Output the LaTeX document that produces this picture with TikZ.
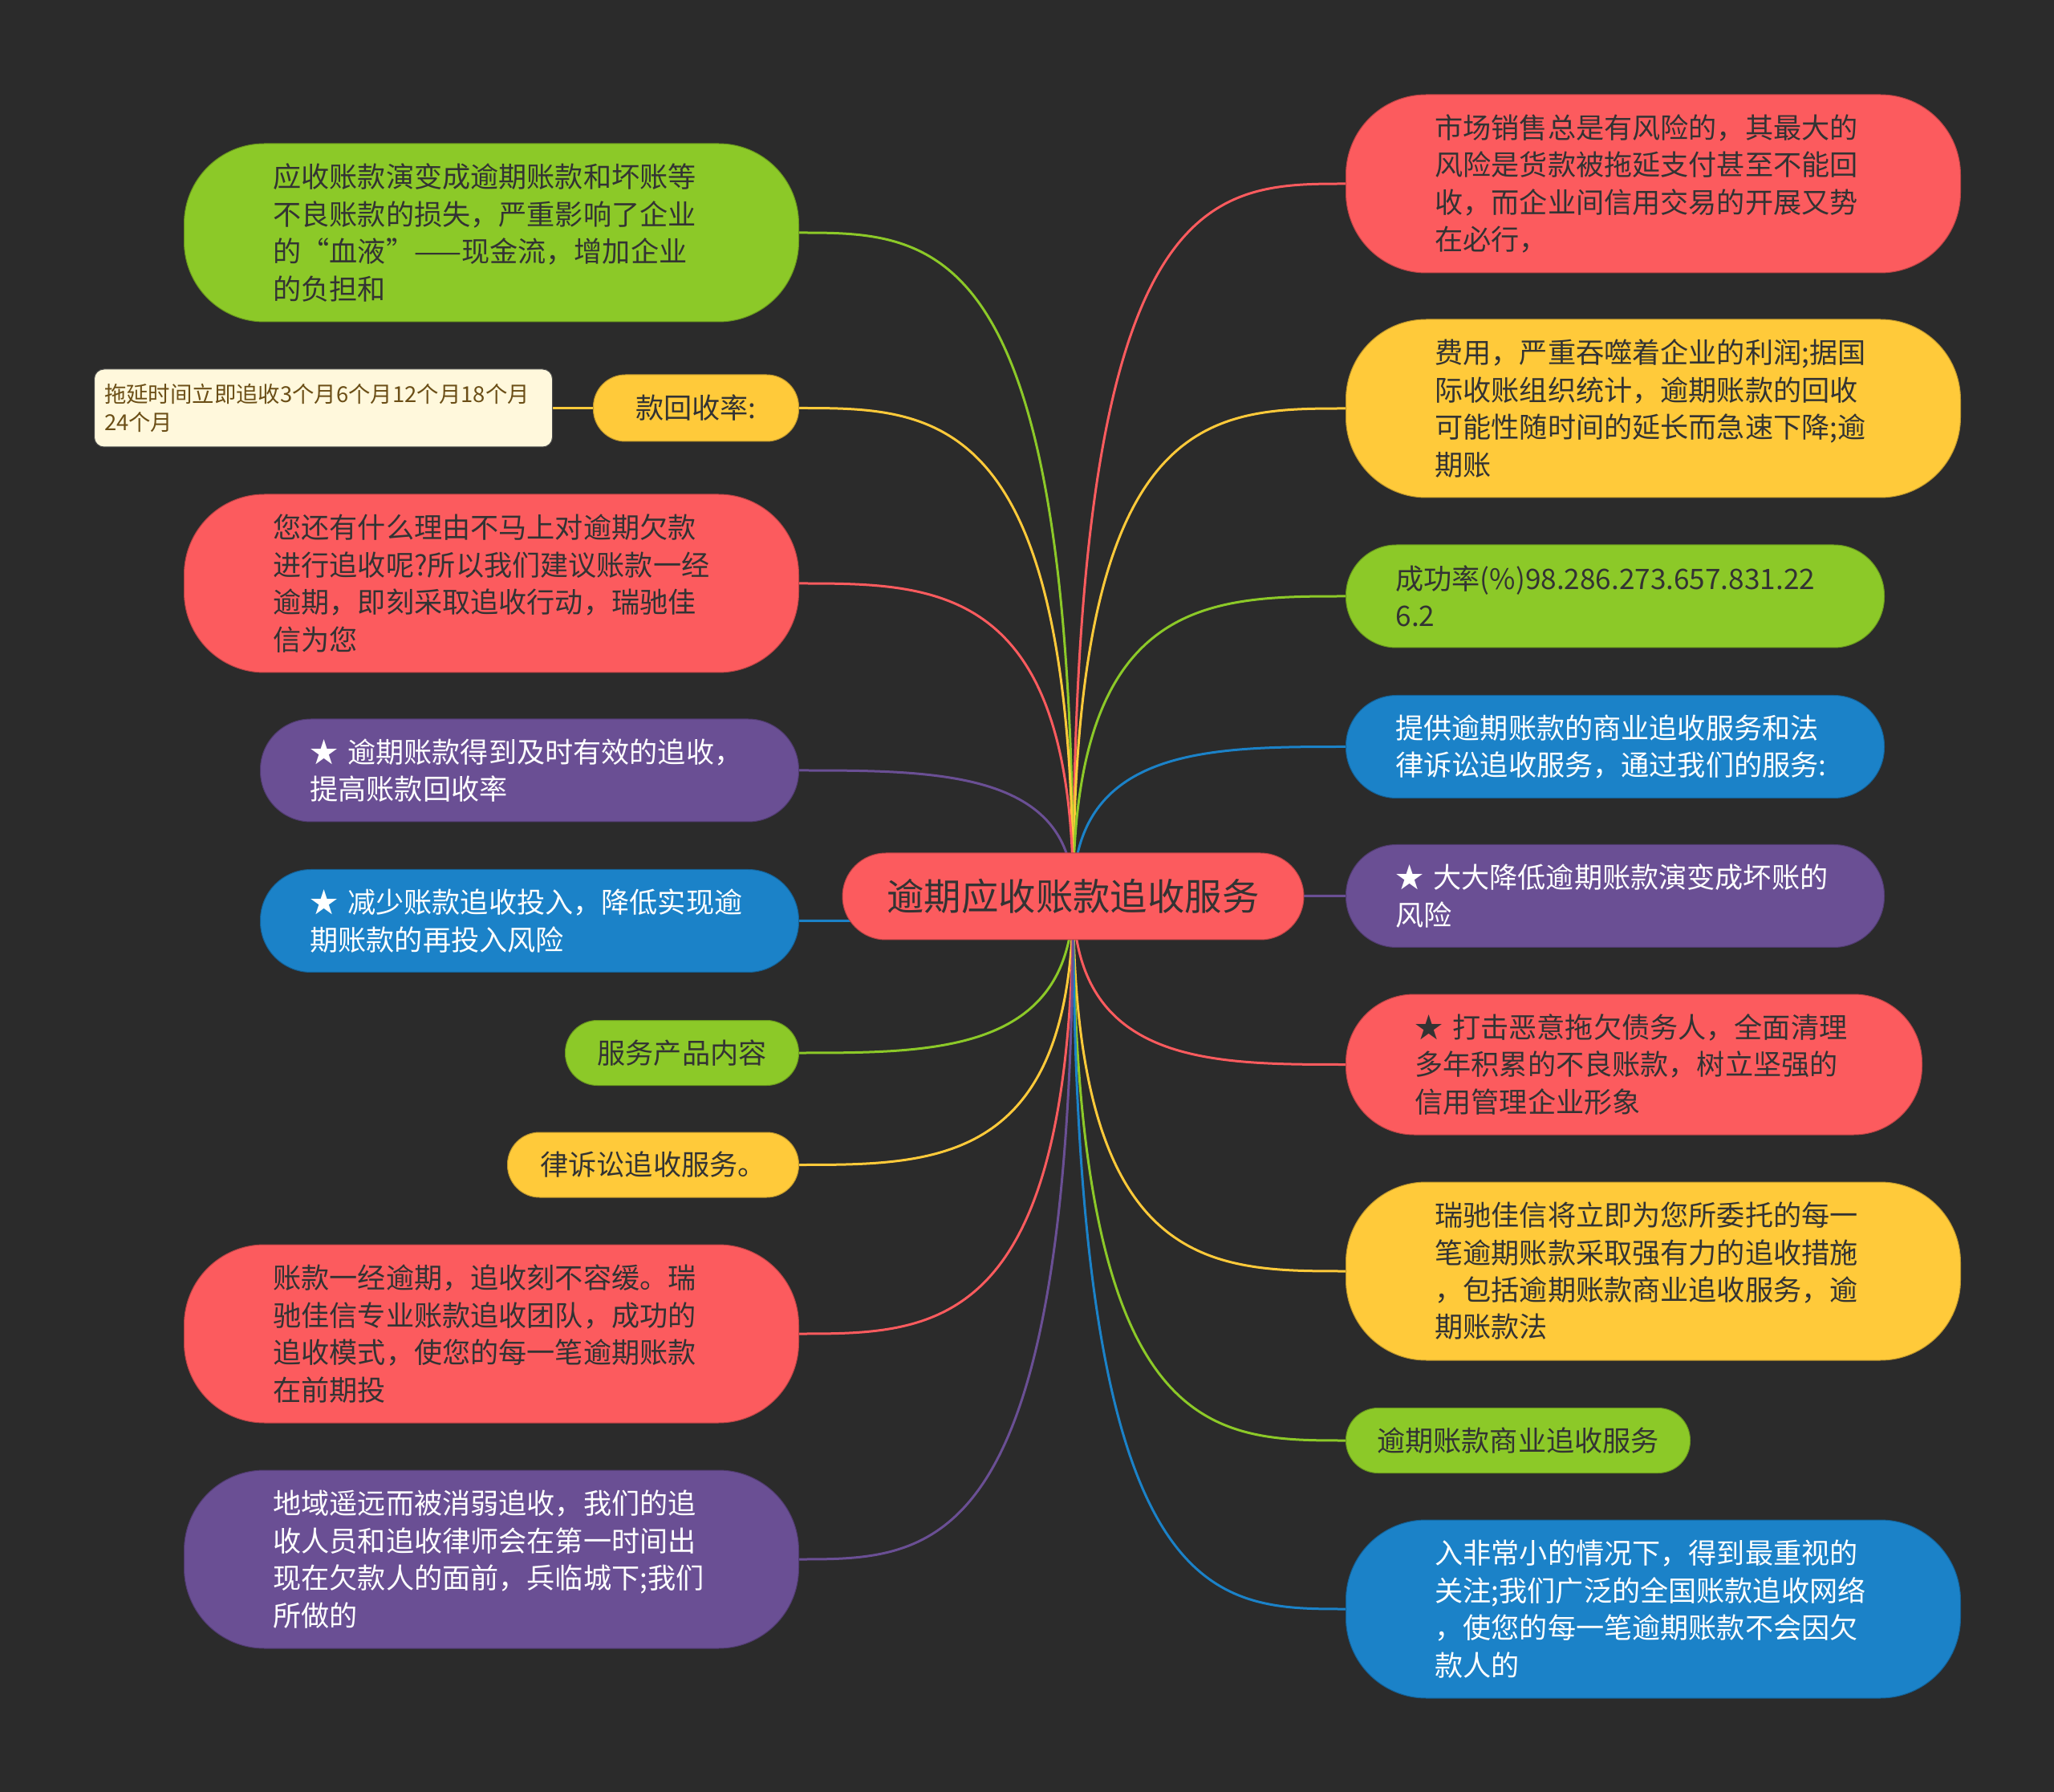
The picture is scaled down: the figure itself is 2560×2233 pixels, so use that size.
\documentclass[tikz,border=0pt]{standalone}
\usepackage{fontspec}
\setmainfont{Noto Sans CJK SC}
\usetikzlibrary{calc}
\definecolor{bgc}{HTML}{2B2B2B}
\definecolor{cred}{HTML}{FC5B5E}
\definecolor{cyel}{HTML}{FFCA3A}
\definecolor{cgrn}{HTML}{8CC928}
\definecolor{cblu}{HTML}{1B82C8}
\definecolor{cpur}{HTML}{6A4F94}
\definecolor{ccream}{HTML}{FFF8DC}
\definecolor{cbrown}{HTML}{6B4E16}
\definecolor{tdark}{HTML}{333333}
\pgfdeclarelayer{background}
\pgfsetlayers{background,main}
\tikzset{
  base/.style={draw, line width=0.1mm, inner sep=0pt, align=left,
    font=\fontsize{10pt}{13.2pt}\selectfont},
  four/.style={base, minimum width=76.6mm, minimum height=22.2mm, text width=54.4mm, rounded corners=10mm},
  three/.style={base, minimum width=71.8mm, minimum height=17.5mm, text width=54.6mm, rounded corners=8.5mm},
  two/.style={base, minimum width=67.1mm, minimum height=12.8mm, text width=54.7mm, rounded corners=6.3mm},
  one/.style={base, minimum height=8.1mm, rounded corners=4mm, align=center},
  nred/.style={fill=cred, draw=cred!75!black, text=tdark},
  nyel/.style={fill=cyel, draw=cyel!75!black, text=tdark},
  ngrn/.style={fill=cgrn, draw=cgrn!75!black, text=tdark},
  nblu/.style={fill=cblu, draw=cblu!75!black, text=white},
  npur/.style={fill=cpur, draw=cpur!75!black, text=white},
  conn/.style={line width=0.3mm},
}
\begin{document}
\begin{tikzpicture}[x=0.1mm, y=-0.1mm]
\begin{pgfonlayer}{background}
\fill[bgc] (0,0) rectangle (2560,2233);
\end{pgfonlayer}
\useasboundingbox (0,0) rectangle (2560,2233);

% center
\node[base, nred, align=center, minimum width=57.5mm, minimum height=10.8mm, rounded corners=5.4mm,
  font=\fontsize{13.2pt}{16pt}\selectfont] (C) at (1337.5,1117) {逾期应收账款追收服务};

% right side
\node[four, nred, anchor=west] (R1) at (1677,229) {市场销售总是有风险的，其最大的\\风险是货款被拖延支付甚至不能回\\收，而企业间信用交易的开展又势\\在必行，};
\node[four, nyel, anchor=west] (R2) at (1677,509) {费用，严重吞噬着企业的利润;据国\\际收账组织统计，逾期账款的回收\\可能性随时间的延长而急速下降;逾\\期账};
\node[two, ngrn, anchor=west] (R3) at (1677,743) {成功率(\%)98.286.273.657.831.22\\6.2};
\node[two, nblu, anchor=west] (R4) at (1677,930.5) {提供逾期账款的商业追收服务和法\\律诉讼追收服务，通过我们的服务:};
\node[two, npur, anchor=west] (R5) at (1677,1116.5) {★ 大大降低逾期账款演变成坏账的\\风险};
\node[three, nred, anchor=west] (R6) at (1677,1326.5) {★ 打击恶意拖欠债务人，全面清理\\多年积累的不良账款，树立坚强的\\信用管理企业形象};
\node[four, nyel, anchor=west] (R7) at (1677,1584) {瑞驰佳信将立即为您所委托的每一\\笔逾期账款采取强有力的追收措施\\，包括逾期账款商业追收服务，逾\\期账款法};
\node[one, ngrn, anchor=west, minimum width=42.9mm] (R8) at (1677,1795) {逾期账款商业追收服务};
\node[four, nblu, anchor=west] (R9) at (1677,2005) {入非常小的情况下，得到最重视的\\关注;我们广泛的全国账款追收网络\\，使您的每一笔逾期账款不会因欠\\款人的};

% left side
\node[four, ngrn, anchor=east] (L1) at (996,290) {应收账款演变成逾期账款和坏账等\\不良账款的损失，严重影响了企业\\的“血液”——现金流，增加企业\\的负担和};
\node[one, nyel, anchor=east, minimum width=25.6mm, minimum height=8.3mm] (L2) at (996,508.5) {款回收率:};
\node[draw=black!70, line width=0.1mm, fill=ccream, text=cbrown, anchor=east, inner sep=0pt,
  minimum width=57.1mm, minimum height=9.7mm, text width=54.6mm, align=left, rounded corners=1.2mm,
  font=\fontsize{7.8pt}{10.2pt}\selectfont] (L2c) at (689,508.5) {拖延时间立即追收3个月6个月12个月18个月\\24个月};
\node[four, nred, anchor=east] (L3) at (996,727) {您还有什么理由不马上对逾期欠款\\进行追收呢?所以我们建议账款一经\\逾期，即刻采取追收行动，瑞驰佳\\信为您};
\node[two, npur, anchor=east] (L4) at (996,960) {★ 逾期账款得到及时有效的追收，\\提高账款回收率};
\node[two, nblu, anchor=east] (L5) at (996,1147.5) {★ 减少账款追收投入，降低实现逾\\期账款的再投入风险};
\node[one, ngrn, anchor=east, minimum width=29.1mm] (L6) at (996,1312) {服务产品内容};
\node[one, nyel, anchor=east, minimum width=36.3mm] (L7) at (996,1451.5) {律诉讼追收服务。};
\node[four, nred, anchor=east] (L8) at (996,1662) {账款一经逾期，追收刻不容缓。瑞\\驰佳信专业账款追收团队，成功的\\追收模式，使您的每一笔逾期账款\\在前期投};
\node[four, npur, anchor=east] (L9) at (996,1943) {地域遥远而被消弱追收，我们的追\\收人员和追收律师会在第一时间出\\现在欠款人的面前，兵临城下;我们\\所做的};

% connectors
\begin{pgfonlayer}{background}
\foreach \n/\c in {R1/cred,R2/cyel,R3/cgrn,R4/cblu,R5/cpur,R6/cred,R7/cyel,R8/cgrn,R9/cblu}
  \draw[conn, \c] (C.center) .. controls (C.center |- \n.west) and ($(C.center |- \n.west)!0.5!(\n.west)$) .. (\n.west);
\foreach \n/\c in {L1/cgrn,L2/cyel,L3/cred,L4/cpur,L5/cblu,L6/cgrn,L7/cyel,L8/cred,L9/cpur}
  \draw[conn, \c] (C.center) .. controls (C.center |- \n.east) and ($(C.center |- \n.east)!0.5!(\n.east)$) .. (\n.east);
\draw[conn, cyel] (L2.west) -- (L2c.east);
\end{pgfonlayer}
\end{tikzpicture}
\end{document}
